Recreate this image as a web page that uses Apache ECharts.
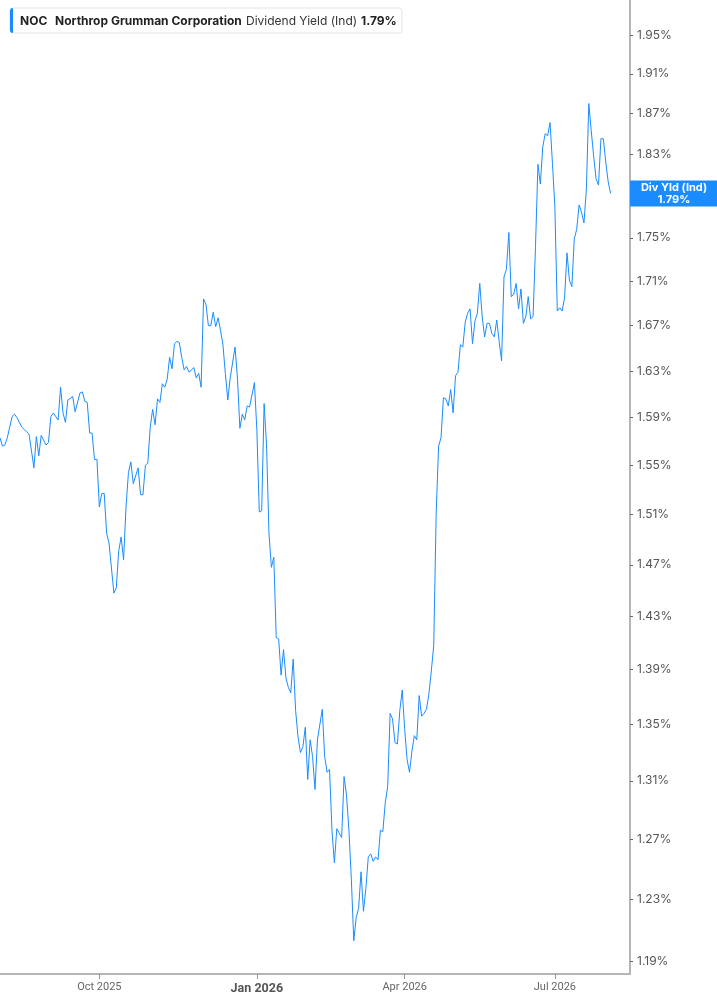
<!DOCTYPE html>
<html>
<head>
<meta charset="utf-8">
<script src="https://cdn.jsdelivr.net/npm/echarts@6/dist/echarts.min.js"></script>
<style>
html, body { margin: 0; padding: 0; background: #fff; }
#chart { width: 717px; height: 1005px; }
</style>
</head>
<body>
<div id="chart"></div>
<script>
var ticker = 'NOC';
var company = 'Northrop Grumman Corporation';
var metric = 'Dividend Yield (Ind)';
var tagLabel = 'Div Yld (Ind)';

// trading day index from the start of the window
var days = [
  0, 1, 2, 3, 5, 6, 7, 9, 10, 12, 14, 15, 16, 17, 19, 20, 21, 22, 24, 25,
  26, 27, 28, 30, 31, 33, 34, 35, 36, 37, 38, 39, 40, 41, 42, 43, 44, 45, 47, 48,
  49, 50, 51, 52, 53, 54, 55, 57, 58, 59, 60, 61, 62, 63, 64, 65, 66, 67, 68, 69,
  70, 71, 72, 73, 74, 75, 76, 77, 78, 80, 81, 82, 83, 84, 85, 86, 87, 88, 89, 90,
  91, 92, 93, 94, 95, 97, 98, 99, 100, 101, 102, 103, 105, 106, 107, 108, 109, 110, 111, 112,
  113, 114, 115, 116, 117, 118, 119, 120, 121, 122, 123, 124, 125, 126, 127, 128, 129, 130, 131, 133,
  134, 135, 136, 137, 138, 139, 140, 141, 142, 143, 144, 145, 146, 147, 148, 149, 150, 151, 152, 153,
  154, 155, 156, 157, 158, 159, 160, 161, 162, 163, 164, 165, 166, 167, 168, 169, 170, 171, 172, 173,
  174, 175, 176, 177, 178, 179, 180, 181, 182, 183, 184, 185, 186, 187, 188, 189, 190, 191, 192, 193,
  194, 195, 196, 197, 198, 199, 200, 201, 202, 203, 204, 205, 206, 207, 208, 209, 210, 211, 212, 213,
  214, 215, 216, 217, 218, 219, 220, 221, 222, 223, 224, 225, 226, 227, 228, 229, 230, 231, 232, 233,
  234, 235, 236, 237, 238, 239, 240, 241, 242, 243, 244, 245, 246, 247, 248, 249, 250, 251, 252
];

// dividend yield, %
var yieldPct = [
  1.573, 1.566, 1.567, 1.573, 1.591, 1.593, 1.590, 1.582, 1.580, 1.576, 1.548, 1.574, 1.558, 1.575, 1.567, 1.569, 1.591, 1.594, 1.588, 1.616,
  1.594, 1.586, 1.605, 1.608, 1.595, 1.611, 1.612, 1.604, 1.603, 1.577, 1.577, 1.555, 1.555, 1.516, 1.527, 1.527, 1.495, 1.487, 1.448, 1.452,
  1.481, 1.492, 1.474, 1.516, 1.544, 1.553, 1.535, 1.548, 1.526, 1.526, 1.550, 1.552, 1.582, 1.597, 1.584, 1.606, 1.603, 1.619, 1.616, 1.623,
  1.642, 1.632, 1.654, 1.656, 1.655, 1.642, 1.631, 1.634, 1.629, 1.633, 1.624, 1.628, 1.616, 1.694, 1.689, 1.670, 1.670, 1.682, 1.669, 1.677,
  1.666, 1.653, 1.628, 1.605, 1.624, 1.651, 1.624, 1.581, 1.593, 1.588, 1.600, 1.599, 1.620, 1.580, 1.512, 1.513, 1.602, 1.567, 1.495, 1.468,
  1.476, 1.414, 1.413, 1.386, 1.405, 1.384, 1.377, 1.373, 1.398, 1.360, 1.341, 1.330, 1.334, 1.348, 1.311, 1.339, 1.327, 1.304, 1.339, 1.361,
  1.327, 1.316, 1.318, 1.276, 1.254, 1.277, 1.274, 1.271, 1.313, 1.300, 1.276, 1.243, 1.203, 1.218, 1.224, 1.248, 1.222, 1.237, 1.258, 1.260,
  1.255, 1.258, 1.256, 1.276, 1.275, 1.295, 1.306, 1.358, 1.354, 1.337, 1.336, 1.360, 1.375, 1.347, 1.325, 1.316, 1.331, 1.342, 1.339, 1.371,
  1.356, 1.358, 1.361, 1.372, 1.389, 1.408, 1.510, 1.566, 1.573, 1.607, 1.606, 1.600, 1.614, 1.594, 1.626, 1.629, 1.653, 1.651, 1.673, 1.681,
  1.685, 1.654, 1.674, 1.681, 1.708, 1.678, 1.660, 1.672, 1.672, 1.663, 1.660, 1.675, 1.656, 1.639, 1.714, 1.721, 1.755, 1.696, 1.698, 1.708,
  1.685, 1.703, 1.672, 1.678, 1.696, 1.676, 1.678, 1.742, 1.820, 1.801, 1.837, 1.850, 1.848, 1.861, 1.821, 1.779, 1.683, 1.686, 1.683, 1.695,
  1.736, 1.711, 1.705, 1.749, 1.758, 1.781, 1.774, 1.764, 1.796, 1.880, 1.853, 1.828, 1.806, 1.800, 1.845, 1.845, 1.822, 1.803, 1.792
];

var yTicks = [1.19, 1.23, 1.27, 1.31, 1.35, 1.39, 1.43, 1.47, 1.51, 1.55, 1.59, 1.63, 1.67, 1.71, 1.75, 1.79, 1.83, 1.87, 1.91, 1.95];
var monthDays = [41, 106, 167, 229];
var monthLabels = ['Oct 2025', 'Jan 2026', 'Apr 2026', 'Jul 2026'];
var dayMax = 260;
var yMin = 1.1818, yMax = 1.9867;

var lineColor = '#1a8cff';
var chartDom = document.getElementById('chart');
var myChart = echarts.init(chartDom);

// the axis is logarithmic: plot ln(yield) and print exp() on the labels
var points = days.map(function (d, i) { return [d, Math.log(yieldPct[i])]; });
var yTickLogs = yTicks.map(function (v) { return Math.log(v); });

var option = {
  backgroundColor: '#fff',
  animation: false,
  grid: { left: 0, right: 87, top: 0, bottom: 31 },
  xAxis: {
    type: 'value',
    min: 0,
    max: dayMax,
    axisLine: { show: true, onZero: false, lineStyle: { color: '#b5b5b5', width: 2 } },
    axisTick: { show: true, length: 5, customValues: monthDays, lineStyle: { color: '#999' } },
    splitLine: { show: false },
    axisLabel: {
      customValues: monthDays,
      margin: 8,
      color: '#666',
      fontFamily: 'Roboto',
      fontSize: 11,
      formatter: function (v) {
        var s = monthLabels[monthDays.indexOf(Math.round(v))] || '';
        return s.indexOf('Jan') === 0 ? '{b|' + s + '}' : s;
      },
      rich: { b: { fontWeight: 'bold', fontSize: 12.5, color: '#555', fontFamily: 'Roboto' } }
    }
  },
  yAxis: {
    type: 'value',
    position: 'right',
    min: Math.log(yMin),
    max: Math.log(yMax),
    axisLine: { show: true, onZero: false, lineStyle: { color: '#b5b5b5', width: 2 } },
    axisTick: { show: true, length: 3, customValues: yTickLogs, lineStyle: { color: '#666' } },
    splitLine: { show: false },
    axisLabel: {
      customValues: yTickLogs,
      margin: 7,
      color: '#555',
      fontFamily: 'Inter',
      fontSize: 12,
      formatter: function (v) { return Math.exp(v).toFixed(2) + '%'; }
    }
  },
  series: [{
    type: 'line',
    data: points,
    showSymbol: false,
    lineStyle: { color: lineColor, width: 1 },
    itemStyle: { color: lineColor }
  }]
};
myChart.setOption(option);

// legend box and the last-value tag on the axis
var last = yieldPct[yieldPct.length - 1];
var lastText = last.toFixed(2) + '%';
var tagY = myChart.convertToPixel({ yAxisIndex: 0 }, Math.log(last));

myChart.setOption({
  graphic: [
    {
      type: 'group', x: 10, y: 8, z: 100,
      children: [
        { type: 'rect', z: 100, shape: { x: 0, y: 0, width: 392, height: 25, r: 3 }, style: { fill: '#fff', stroke: '#e3e3e3', lineWidth: 1 } },
        { type: 'rect', z: 101, shape: { x: 0, y: 0, width: 3, height: 25, r: [3, 0, 0, 3] }, style: { fill: lineColor } },
        { type: 'text', z: 101, x: 10, y: 13, style: { text: ticker, fill: '#222', font: 'bold 12px Inter', verticalAlign: 'middle', textVerticalAlign: 'middle' } },
        { type: 'text', z: 101, x: 45, y: 13, style: { text: company, fill: '#222', font: 'bold 12px Inter', verticalAlign: 'middle', textVerticalAlign: 'middle' } },
        { type: 'text', z: 101, x: 236, y: 13, style: { text: metric, fill: '#333', font: '12px Inter', verticalAlign: 'middle', textVerticalAlign: 'middle' } },
        { type: 'text', z: 101, x: 351, y: 13, style: { text: lastText, fill: '#222', font: 'bold 12px Inter', verticalAlign: 'middle', textVerticalAlign: 'middle' } }
      ]
    },
    {
      type: 'group', x: 630, y: tagY - 13, z: 100,
      children: [
        { type: 'rect', z: 100, shape: { x: 0, y: 0, width: 87, height: 26 }, style: { fill: lineColor } },
        { type: 'text', z: 101, x: 44, y: 7, style: { text: tagLabel, fill: '#fff', font: 'bold 11px Inter', align: 'center', textAlign: 'center', verticalAlign: 'middle', textVerticalAlign: 'middle' } },
        { type: 'text', z: 101, x: 44, y: 19, style: { text: lastText, fill: '#fff', font: 'bold 11px Inter', align: 'center', textAlign: 'center', verticalAlign: 'middle', textVerticalAlign: 'middle' } }
      ]
    }
  ]
});
</script>
</body>
</html>
